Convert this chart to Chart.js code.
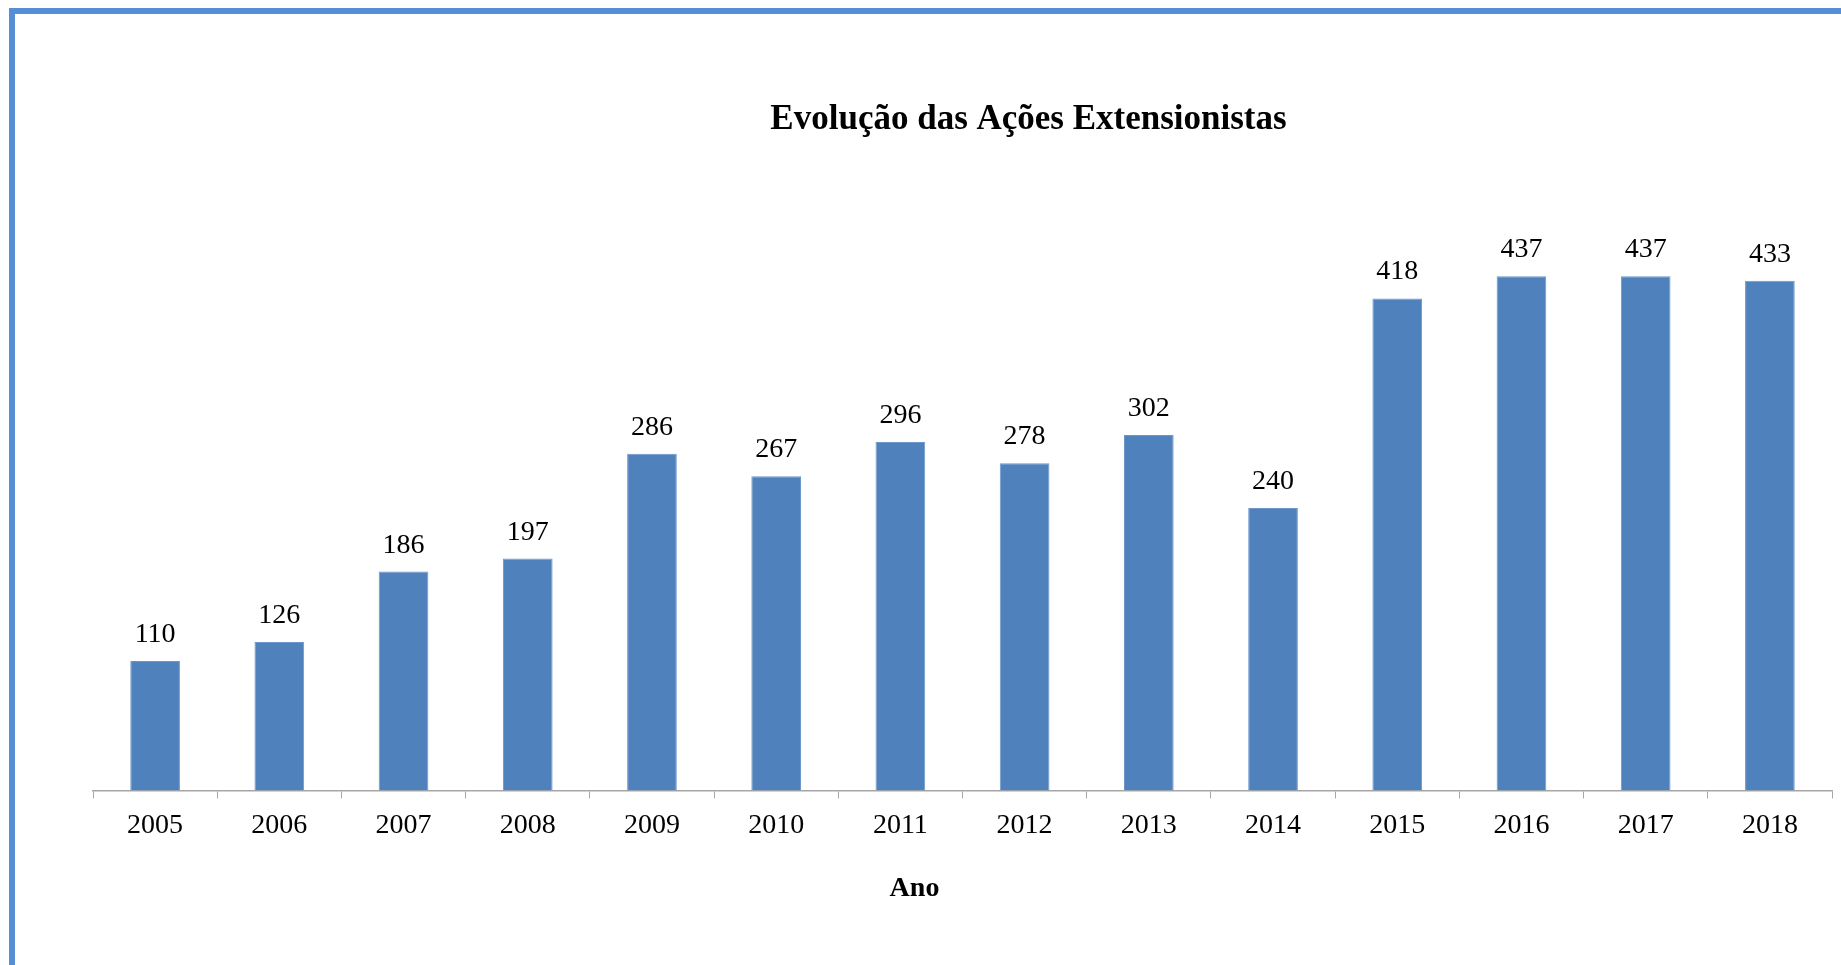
<!DOCTYPE html>
<html lang="pt">
<head>
<meta charset="utf-8">
<title>Evolução das Ações Extensionistas</title>
<script src="https://cdn.jsdelivr.net/npm/chart.js@4/dist/chart.umd.min.js"></script>
<style>
    html, body { margin: 0; padding: 0; background: #fff; overflow: hidden; width: 1841px; height: 965px; }
    .frame { position: absolute; left: 9px; top: 8px; right: -20px; bottom: -20px; border-top: 6px solid #558ED5; border-left: 6px solid #558ED5; }
    #chart { position: absolute; left: 0; top: 0; }
</style>
</head>
<body>
<div class="frame"></div>
<canvas id="chart" width="1841" height="965"></canvas>
<script>
// dados do gráfico
const anos = ['2005', '2006', '2007', '2008', '2009', '2010', '2011', '2012', '2013', '2014', '2015', '2016', '2017', '2018'];
const acoes = [110, 126, 186, 197, 286, 267, 296, 278, 302, 240, 418, 437, 437, 433];
const tituloGrafico = 'Evolução das Ações Extensionistas';
const tituloEixoX = 'Ano';

const FONTE = "'Liberation Serif', 'Times New Roman', serif"; // fonte tipo Times
const COR_BARRA = '#4F81BD';
const COR_EIXO = '#a6a6a6';

// rótulos de valor acima das barras
const rotulosValores = {
    id: 'rotulosValores',
    afterDatasetsDraw(chart) {
        const { ctx } = chart;
        const meta = chart.getDatasetMeta(0);
        ctx.save();
        ctx.font = `28px ${FONTE}`;
        ctx.fillStyle = '#000';
        ctx.textAlign = 'center';
        ctx.textBaseline = 'alphabetic';
        meta.data.forEach((bar, i) => {
            ctx.fillText(String(acoes[i]), bar.x, bar.y - 19);
        });
        ctx.restore();
    }
};

// títulos (gráfico e eixo X), deslocados do centro como no original
const titulos = {
    id: 'titulos',
    afterDraw(chart) {
        const { ctx, chartArea } = chart;
        const meio = (chartArea.left + chartArea.right) / 2;
        ctx.save();
        ctx.fillStyle = '#000';
        ctx.textAlign = 'center';
        ctx.textBaseline = 'middle';
        ctx.font = `bold 35px ${FONTE}`;
        ctx.fillText(tituloGrafico, meio + 66, 120);
        ctx.font = `bold 28px ${FONTE}`;
        ctx.fillText(tituloEixoX, meio - 48, chartArea.bottom + 98);
        ctx.restore();
    }
};

new Chart(document.getElementById('chart'), {
    type: 'bar',
    data: {
        labels: anos,
        datasets: [{
            label: 'Ações',
            data: acoes,
            backgroundColor: COR_BARRA,
            borderColor: '#6d97c9',
            borderWidth: 1,
            barPercentage: 0.4,
            categoryPercentage: 1,
        }],
    },
    options: {
        responsive: false,
        animation: false,
        layout: { padding: { left: 93, right: 9, top: 202, bottom: 113 } },
        plugins: {
            legend: { display: false },
            tooltip: { enabled: false },
            title: { display: false },
        },
        scales: {
            x: {
                grid: { display: true, drawOnChartArea: false, drawTicks: true, tickLength: 8, color: COR_EIXO, lineWidth: 1 },
                border: { display: true, color: COR_EIXO, width: 1.5 },
                ticks: { color: '#000', padding: 10, font: { family: FONTE, size: 28 } },
            },
            y: { display: false, min: 0, max: 500 },
        },
    },
    plugins: [rotulosValores, titulos],
});
</script>
</body>
</html>
